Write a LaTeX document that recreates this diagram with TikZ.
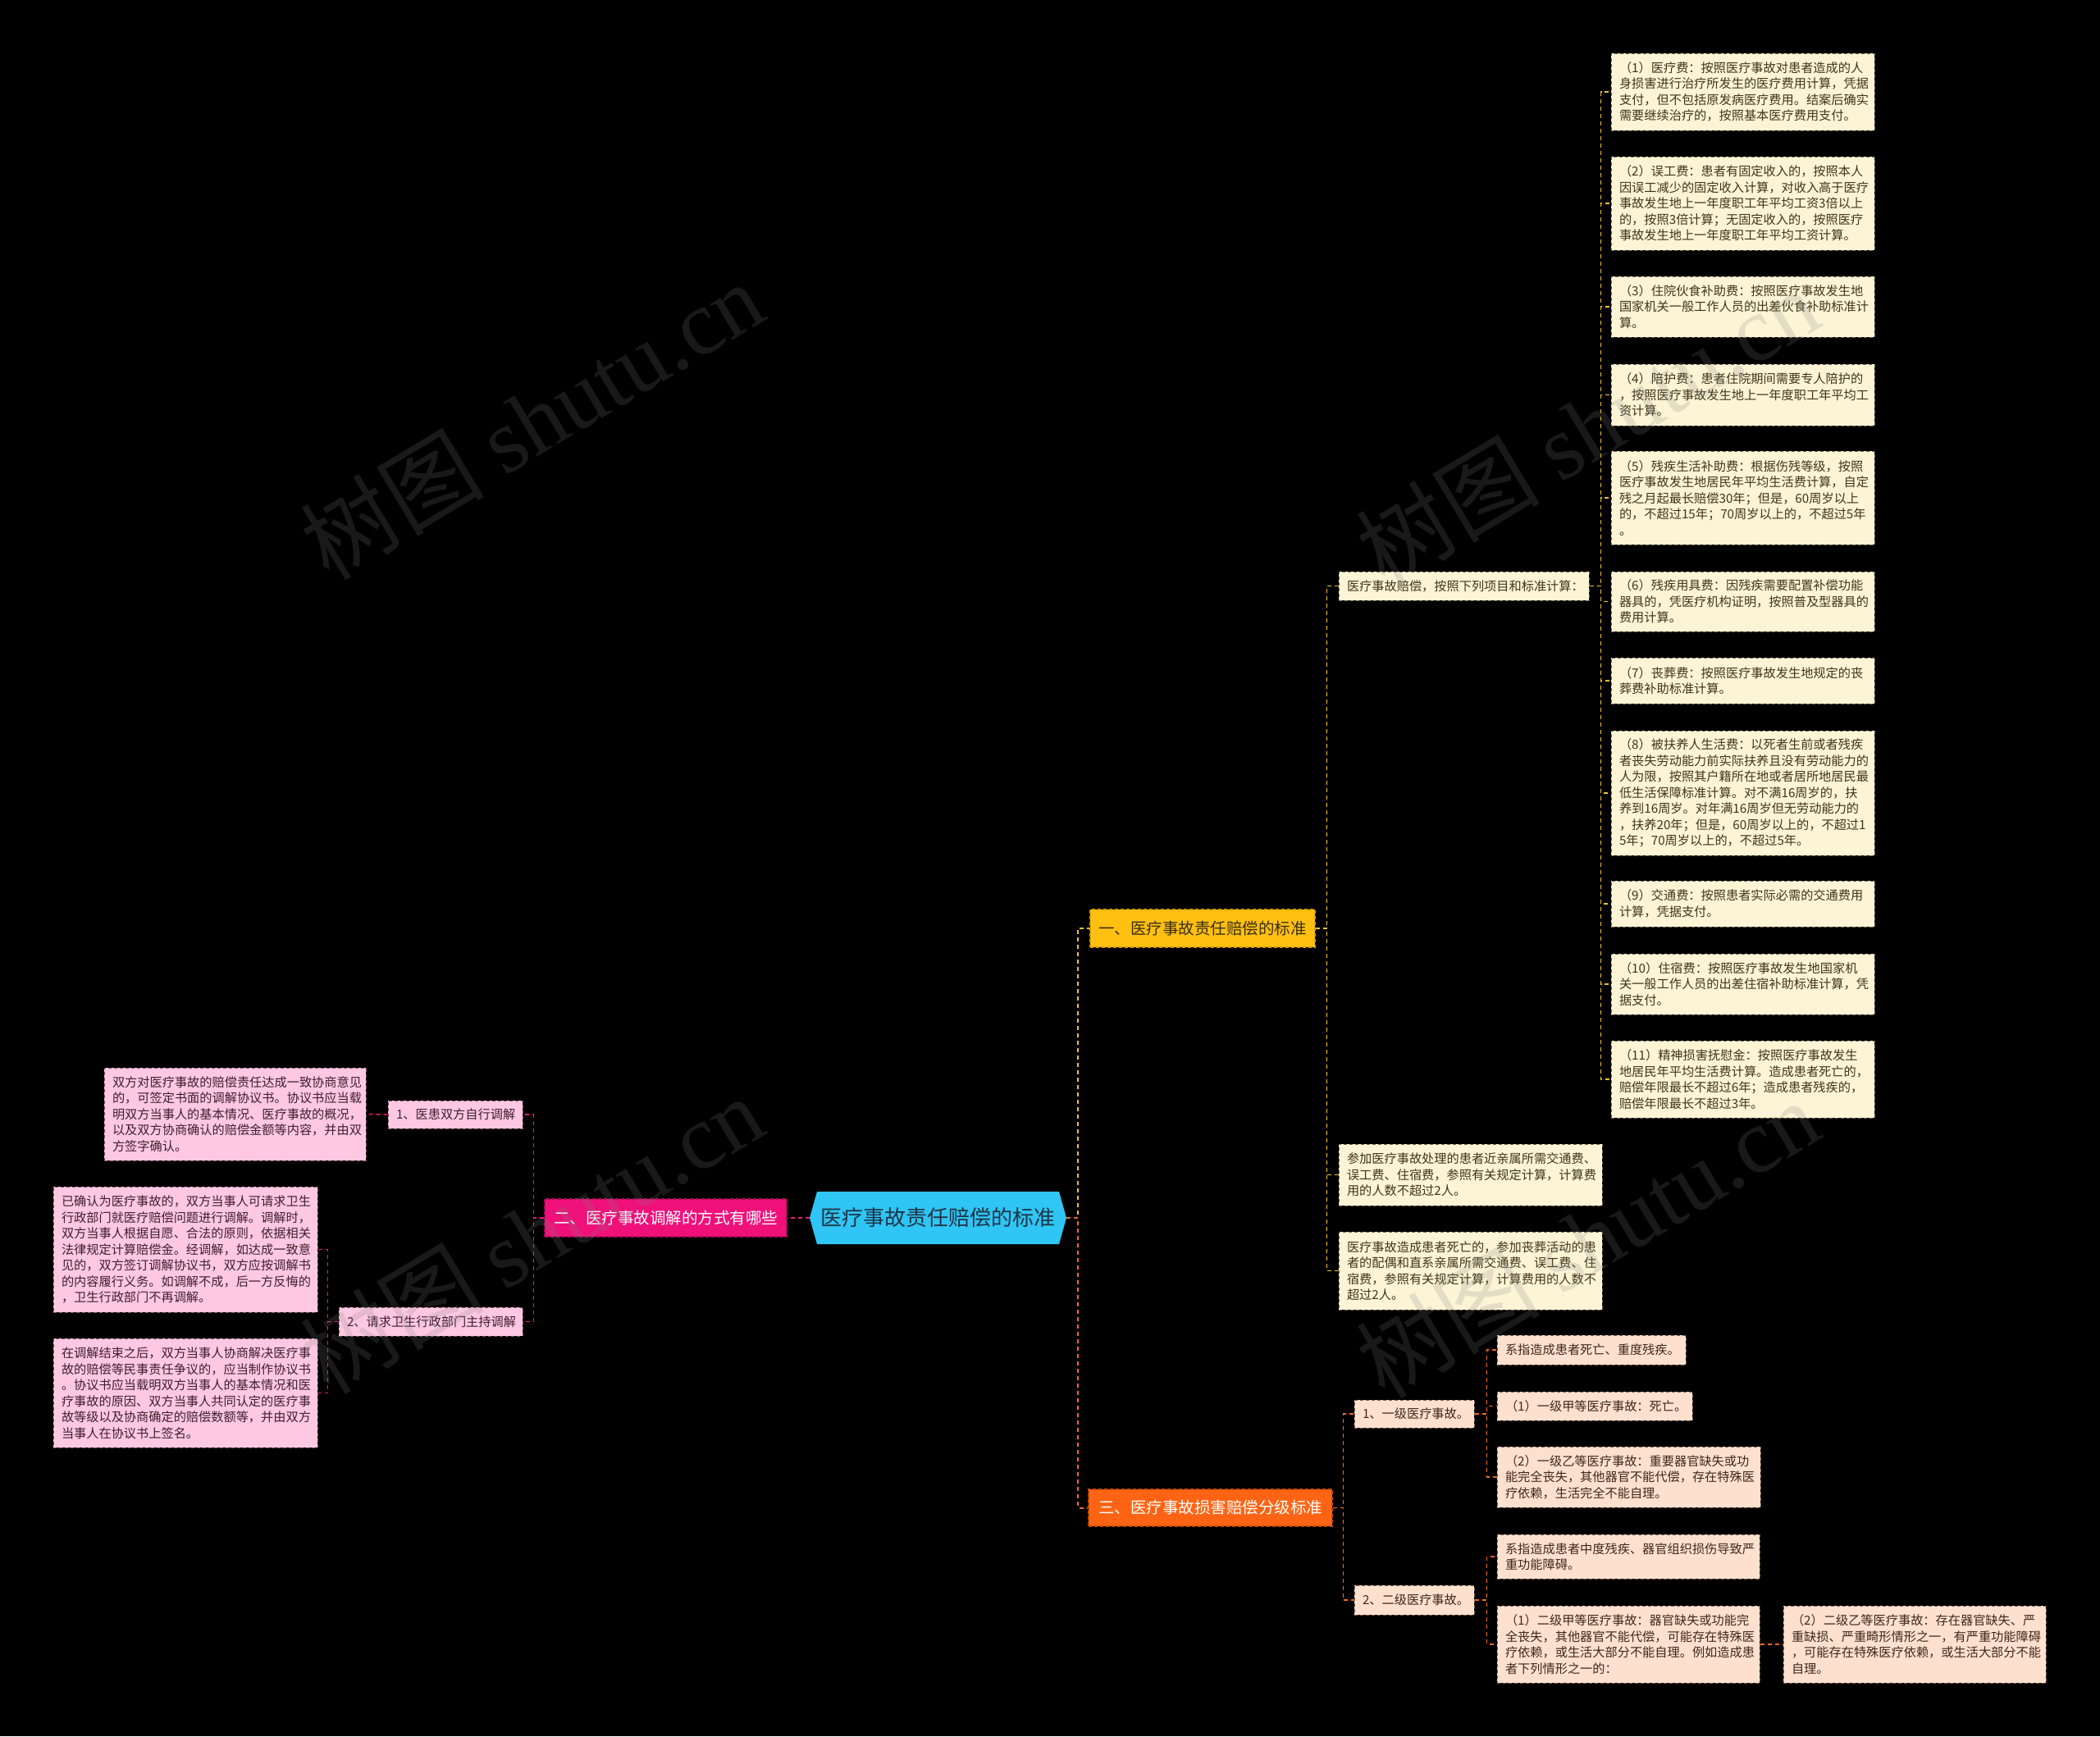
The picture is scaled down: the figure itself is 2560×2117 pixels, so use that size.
\documentclass[tikz,border=0pt]{standalone}
\usepackage{fontspec}
\setmainfont{Noto Sans CJK SC}
\newfontfamily\wmserif{Liberation Serif}
\usetikzlibrary{calc}
\definecolor{creamF}{HTML}{FDF4D5}
\definecolor{creamD}{HTML}{6E6650}
\definecolor{creamT}{HTML}{40341C}
\definecolor{pinkF}{HTML}{FFC8E2}
\definecolor{pinkD}{HTML}{7A5066}
\definecolor{pinkT}{HTML}{3E1F2E}
\definecolor{peachF}{HTML}{FEE0CF}
\definecolor{peachD}{HTML}{7E5E4E}
\definecolor{peachT}{HTML}{3E2818}
\definecolor{yelB}{HTML}{FFC012}
\definecolor{yelBD}{HTML}{D89A00}
\definecolor{yelBT}{HTML}{3A2E10}
\definecolor{magB}{HTML}{F0107A}
\definecolor{magBD}{HTML}{B00C58}
\definecolor{oraB}{HTML}{FF6414}
\definecolor{oraBD}{HTML}{C84A00}
\definecolor{cyanC}{HTML}{2FC5F4}
\definecolor{cyanT}{HTML}{1D3446}
\definecolor{conY}{HTML}{F2C230}
\definecolor{conO}{HTML}{F26A1B}
\definecolor{conP}{HTML}{E8197A}
\newcommand\leaffont{\fontsize{7.6pt}{9.75pt}\selectfont}
\newcommand\brfont{\fontsize{9.75pt}{11pt}\selectfont}
\newcommand\cfont{\fontsize{13pt}{15pt}\selectfont}
\newcommand\mybox[7]{%
 \pgfmathsetmacro\bw{(#5-#3)*0.5}%
 \pgfmathsetmacro\bh{(#6-#4)*0.5}%
 \pgfmathsetmacro\tw{(#5-#3)*0.5-10}%
 \node[#1,minimum width=\bw pt,minimum height=\bh pt,text width=\tw pt] (#2) at ({(#3+#5)/2},{(#4+#6)/2}) {#7};}
\tikzset{
 boxbase/.style={dash pattern=on 2pt off 1.5pt,line width=0.5pt,inner xsep=5pt,inner ysep=1pt,font=\leaffont,align=left},
 cream/.style={boxbase,draw=creamD,fill=creamF,text=creamT},
 pinkbox/.style={boxbase,draw=pinkD,fill=pinkF,text=pinkT},
 peach/.style={boxbase,draw=peachD,fill=peachF,text=peachT},
 brbase/.style={dash pattern=on 2pt off 1.5pt,line width=0.6pt,inner xsep=5pt,inner ysep=1pt,font=\brfont,align=center},
 br1/.style={brbase,draw=yelBD,fill=yelB,text=yelBT},
 br2/.style={brbase,draw=magBD,fill=magB,text=white},
 br3/.style={brbase,draw=oraBD,fill=oraB,text=white},
 mainY/.style={draw=conY,line width=1pt,dash pattern=on 2.5pt off 2pt},
 mainO/.style={draw=conO,line width=1pt,dash pattern=on 2.5pt off 2pt},
 mainP/.style={draw=conP,line width=1pt,dash pattern=on 2.5pt off 2pt},
 subY/.style={draw=conY,line width=0.75pt,dash pattern=on 2.5pt off 2pt},
 subO/.style={draw=conO,line width=0.75pt,dash pattern=on 2.5pt off 2pt},
 subP/.style={draw=conP,line width=0.75pt,dash pattern=on 2.5pt off 2pt},
 wm/.style={text=gray,opacity=0.2,font=\fontsize{56pt}{60pt}\selectfont,rotate=31,inner sep=0pt},
 hexa/.style={font=\cfont,text=cyanT,inner sep=0pt,minimum width=156.5pt,minimum height=32pt,
  path picture={\fill[cyanC] ([xshift=4.5pt]path picture bounding box.north west) -- ([xshift=-4.5pt]path picture bounding box.north east) -- (path picture bounding box.east) -- ([xshift=-4.5pt]path picture bounding box.south east) -- ([xshift=4.5pt]path picture bounding box.south west) -- (path picture bounding box.west) -- cycle;}}
}
\begin{document}
\begin{tikzpicture}[x=0.5pt,y=-0.5pt]
\useasboundingbox (0,0) rectangle (2560,2117);
\fill[black] (0,0) rectangle (2560,2117);

% central
\node[hexa] (c) at (1143.5,1485) {医疗事故责任赔偿的标准};

% branches
\mybox{br1}{b1}{1329}{1109}{1603}{1155}{一、医疗事故责任赔偿的标准}
\mybox{br2}{b2}{664}{1462}{959}{1508}{二、医疗事故调解的方式有哪些}
\mybox{br3}{b3}{1327}{1816}{1624}{1861}{三、医疗事故损害赔偿分级标准}

% branch 1 children
\mybox{cream,align=center}{n1}{1632}{697}{1937}{732}{医疗事故赔偿，按照下列项目和标准计算：}
\mybox{cream}{p1}{1632}{1395}{1953}{1470}{参加医疗事故处理的患者近亲属所需交通费、\\误工费、住宿费，参照有关规定计算，计算费\\用的人数不超过2人。}
\mybox{cream}{p2}{1632}{1502}{1953}{1597}{医疗事故造成患者死亡的，参加丧葬活动的患\\者的配偶和直系亲属所需交通费、误工费、住\\宿费，参照有关规定计算，计算费用的人数不\\超过2人。}

\mybox{cream}{i1}{1964}{65}{2285}{159}{（1）医疗费：按照医疗事故对患者造成的人\\身损害进行治疗所发生的医疗费用计算，凭据\\支付，但不包括原发病医疗费用。结案后确实\\需要继续治疗的，按照基本医疗费用支付。}
\mybox{cream}{i2}{1964}{191}{2285}{305}{（2）误工费：患者有固定收入的，按照本人\\因误工减少的固定收入计算，对收入高于医疗\\事故发生地上一年度职工年平均工资3倍以上\\的，按照3倍计算；无固定收入的，按照医疗\\事故发生地上一年度职工年平均工资计算。}
\mybox{cream}{i3}{1964}{337}{2285}{411}{（3）住院伙食补助费：按照医疗事故发生地\\国家机关一般工作人员的出差伙食补助标准计\\算。}
\mybox{cream}{i4}{1964}{444}{2285}{519}{（4）陪护费：患者住院期间需要专人陪护的\\，按照医疗事故发生地上一年度职工年平均工\\资计算。}
\mybox{cream}{i5}{1964}{550}{2285}{664}{（5）残疾生活补助费：根据伤残等级，按照\\医疗事故发生地居民年平均生活费计算，自定\\残之月起最长赔偿30年；但是，60周岁以上\\的，不超过15年；70周岁以上的，不超过5年\\。}
\mybox{cream}{i6}{1964}{697}{2285}{770}{（6）残疾用具费：因残疾需要配置补偿功能\\器具的，凭医疗机构证明，按照普及型器具的\\费用计算。}
\mybox{cream}{i7}{1964}{802}{2285}{858}{（7）丧葬费：按照医疗事故发生地规定的丧\\葬费补助标准计算。}
\mybox{cream}{i8}{1964}{891}{2285}{1043}{（8）被扶养人生活费：以死者生前或者残疾\\者丧失劳动能力前实际扶养且没有劳动能力的\\人为限，按照其户籍所在地或者居所地居民最\\低生活保障标准计算。对不满16周岁的，扶\\养到16周岁。对年满16周岁但无劳动能力的\\，扶养20年；但是，60周岁以上的，不超过1\\5年；70周岁以上的，不超过5年。}
\mybox{cream}{i9}{1964}{1074}{2285}{1130}{（9）交通费：按照患者实际必需的交通费用\\计算，凭据支付。}
\mybox{cream}{i10}{1964}{1163}{2285}{1237}{（10）住宿费：按照医疗事故发生地国家机\\关一般工作人员的出差住宿补助标准计算，凭\\据支付。}
\mybox{cream}{i11}{1964}{1269}{2285}{1363}{（11）精神损害抚慰金：按照医疗事故发生\\地居民年平均生活费计算。造成患者死亡的，\\赔偿年限最长不超过6年；造成患者残疾的，\\赔偿年限最长不超过3年。}

% branch 2 children
\mybox{pinkbox,align=center}{m1}{473}{1342}{637}{1376}{1、医患双方自行调解}
\mybox{pinkbox}{l1}{127}{1302}{446}{1415}{双方对医疗事故的赔偿责任达成一致协商意见\\的，可签定书面的调解协议书。协议书应当载\\明双方当事人的基本情况、医疗事故的概况，\\以及双方协商确认的赔偿金额等内容，并由双\\方签字确认。}
\mybox{pinkbox,align=center}{m2}{413}{1594}{637}{1629}{2、请求卫生行政部门主持调解}
\mybox{pinkbox}{la}{65}{1447}{387}{1600}{已确认为医疗事故的，双方当事人可请求卫生\\行政部门就医疗赔偿问题进行调解。调解时，\\双方当事人根据自愿、合法的原则，依据相关\\法律规定计算赔偿金。经调解，如达成一致意\\见的，双方签订调解协议书，双方应按调解书\\的内容履行义务。如调解不成，后一方反悔的\\，卫生行政部门不再调解。}
\mybox{pinkbox}{lb}{65}{1632}{387}{1765}{在调解结束之后，双方当事人协商解决医疗事\\故的赔偿等民事责任争议的，应当制作协议书\\。协议书应当载明双方当事人的基本情况和医\\疗事故的原因、双方当事人共同认定的医疗事\\故等级以及协商确定的赔偿数额等，并由双方\\当事人在协议书上签名。}

% branch 3 children
\mybox{peach,align=center}{g1}{1651}{1707}{1797}{1741}{1、一级医疗事故。}
\mybox{peach}{s1}{1825}{1628}{2055}{1664}{系指造成患者死亡、重度残疾。}
\mybox{peach}{s2}{1825}{1697}{2063}{1732}{（1）一级甲等医疗事故：死亡。}
\mybox{peach}{s3}{1825}{1764}{2146}{1838}{（2）一级乙等医疗事故：重要器官缺失或功\\能完全丧失，其他器官不能代偿，存在特殊医\\疗依赖，生活完全不能自理。}
\mybox{peach,align=center}{g2}{1651}{1933}{1797}{1969}{2、二级医疗事故。}
\mybox{peach}{t1}{1825}{1871}{2145}{1925}{系指造成患者中度残疾、器官组织损伤导致严\\重功能障碍。}
\mybox{peach}{t2}{1825}{1958}{2145}{2052}{（1）二级甲等医疗事故：器官缺失或功能完\\全丧失，其他器官不能代偿，可能存在特殊医\\疗依赖，或生活大部分不能自理。例如造成患\\者下列情形之一的：}
\mybox{peach}{t3}{2174}{1958}{2494}{2052}{（2）二级乙等医疗事故：存在器官缺失、严\\重缺损、严重畸形情形之一，有严重功能障碍\\，可能存在特殊医疗依赖，或生活大部分不能\\自理。}

% connectors
\draw[mainY] (c.east) -- ++(14,0) |- (b1.west);
\draw[mainO] (c.east) -- ++(14,0) |- (b3.west);
\draw[mainP] (c.west) -- (b2.east);
\foreach \n in {n1,p1,p2} \draw[subY] (b1.east) -- ++(14,0) |- (\n.west);
\foreach \n in {i1,i2,i3,i4,i5,i6,i7,i8,i9,i10,i11} \draw[subY] (n1.east) -- ++(14,0) |- (\n.west);
\foreach \n in {m1,m2} \draw[subP] (b2.west) -- ++(-13,0) |- (\n.east);
\draw[subP] (m1.west) -- (l1.east);
\foreach \n in {la,lb} \draw[subP] (m2.west) -- ++(-13,0) |- (\n.east);
\foreach \n in {g1,g2} \draw[subO] (b3.east) -- ++(13,0) |- (\n.west);
\foreach \n in {s1,s2,s3} \draw[subO] (g1.east) -- ++(15,0) |- (\n.west);
\foreach \n in {t1,t2} \draw[subO] (g2.east) -- ++(15,0) |- (\n.west);
\draw[subO] (t2.east) -- (t3.west);

% watermarks
\node[wm] (wm1) at (648,512) {树图 {\wmserif shutu.cn}};
\node[wm] (wm2) at (1935,520) {树图 {\wmserif shutu.cn}};
\node[wm] (wm3) at (648,1505) {树图 {\wmserif shutu.cn}};
\node[wm] (wm4) at (1935,1510) {树图 {\wmserif shutu.cn}};
\end{tikzpicture}
\end{document}
